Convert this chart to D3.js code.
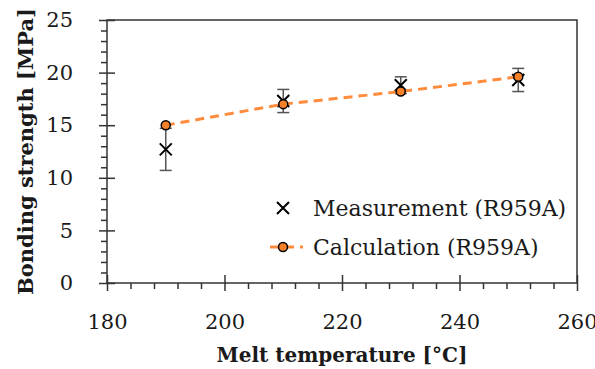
<!DOCTYPE html>
<html>
<head>
<meta charset="utf-8">
<script src="https://cdn.jsdelivr.net/npm/d3@7"></script>
<style>
  body { margin: 0; background: #fff; overflow: hidden; }
  svg text { font-family: "DejaVu Serif", "Liberation Serif", serif; fill: #1a1a1a; }
</style>
</head>
<body>
<svg id="chart" width="595" height="369"></svg>
<script>
// melt temperature [°C]
var temps = [190, 210, 230, 250];
// measured bonding strength and its error (+/-)
var measured = [12.7, 17.3, 18.8, 19.3];
var measuredErr = [2.0, 1.1, 0.8, 1.1];
// calculated bonding strength
var calculated = [15.0, 17.0, 18.2, 19.6];

var xTicks = [180, 200, 220, 240, 260];
var yTicks = [0, 5, 10, 15, 20, 25];

var svg = d3.select("#chart");
var mLeft = 107, mRight = 577, mTop = 20, mBottom = 283;

var x = d3.scaleLinear().domain([180, 260]).range([mLeft, mRight]);
var y = d3.scaleLinear().domain([0, 25]).range([mBottom, mTop]);

var axisColor = "#333";

// frame
svg.append("rect")
    .attr("x", mLeft).attr("y", mTop)
    .attr("width", mRight - mLeft).attr("height", mBottom - mTop)
    .attr("fill", "none").attr("stroke", axisColor).attr("stroke-width", 1.5);

function styleAxis(g) {
  g.select(".domain").remove();
  g.selectAll(".tick line").attr("stroke", axisColor).attr("stroke-width", 1.5);
}

// minor ticks (outside)
var xMinor = d3.range(180, 261, 4).filter(function(v) { return xTicks.indexOf(v) < 0; });
var yMinor = d3.range(0, 25.01, 1).filter(function(v) { return yTicks.indexOf(v) < 0; });

svg.append("g").attr("transform", "translate(0," + mBottom + ")")
    .call(d3.axisBottom(x).tickValues(xMinor).tickSize(6).tickFormat(""))
    .call(styleAxis);
svg.append("g").attr("transform", "translate(" + mLeft + ",0)")
    .call(d3.axisLeft(y).tickValues(yMinor).tickSize(6).tickFormat(""))
    .call(styleAxis);

// major ticks crossing the axis
svg.append("g").attr("transform", "translate(0," + mBottom + ")")
    .call(d3.axisBottom(x).tickValues(xTicks).tickSize(-8).tickFormat(""))
    .call(styleAxis);
svg.append("g").attr("transform", "translate(" + mLeft + ",0)")
    .call(d3.axisLeft(y).tickValues(yTicks).tickSize(-8).tickFormat(""))
    .call(styleAxis);

var xAxis = svg.append("g").attr("transform", "translate(0," + mBottom + ")")
    .call(d3.axisBottom(x).tickValues(xTicks).tickSize(8).tickPadding(23))
    .call(styleAxis);
xAxis.selectAll("text").attr("font-size", 21).attr("font-family", "DejaVu Serif").attr("fill", "#1a1a1a");

var yAxis = svg.append("g").attr("transform", "translate(" + mLeft + ",0)")
    .call(d3.axisLeft(y).tickValues(yTicks).tickSize(8).tickPadding(26))
    .call(styleAxis);
yAxis.selectAll("text").attr("font-size", 21).attr("font-family", "DejaVu Serif").attr("fill", "#1a1a1a");

// axis titles
svg.append("text")
    .attr("x", (mLeft + mRight) / 2).attr("y", 362)
    .attr("text-anchor", "middle")
    .attr("font-size", 20).attr("font-weight", "bold")
    .text("Melt temperature [°C]");

svg.append("text")
    .attr("transform", "translate(33," + ((mTop + mBottom) / 2) + ") rotate(-90)")
    .attr("text-anchor", "middle")
    .attr("font-size", 21).attr("font-weight", "bold")
    .text("Bonding strength [MPa]");

// error bars
var errColor = "#555";
var eb = svg.append("g");
temps.forEach(function(t, i) {
  var lo = measured[i] - measuredErr[i], hi = measured[i] + measuredErr[i];
  eb.append("line").attr("x1", x(t)).attr("x2", x(t))
    .attr("y1", y(lo)).attr("y2", y(hi))
    .attr("stroke", errColor).attr("stroke-width", 1.5);
  [lo, hi].forEach(function(v) {
    eb.append("line").attr("x1", x(t) - 6).attr("x2", x(t) + 6)
      .attr("y1", y(v)).attr("y2", y(v))
      .attr("stroke", errColor).attr("stroke-width", 1.5);
  });
});

// measurement crosses
function cross(g, cx, cy, s) {
  g.append("path")
    .attr("d", "M" + (cx - s) + "," + (cy - s) + "L" + (cx + s) + "," + (cy + s) +
               "M" + (cx - s) + "," + (cy + s) + "L" + (cx + s) + "," + (cy - s))
    .attr("stroke", "#000").attr("stroke-width", 2).attr("fill", "none");
}
var meas = svg.append("g");
temps.forEach(function(t, i) { cross(meas, x(t), y(measured[i]), 6); });

// calculation line
var orange = "#f5802a";
var line = d3.line().x(function(d, i) { return x(temps[i]); }).y(function(d) { return y(d); });
svg.append("path").datum(calculated)
    .attr("d", line)
    .attr("fill", "none").attr("stroke", "#ff8c3c")
    .attr("stroke-width", 3).attr("stroke-dasharray", "9,6");

svg.selectAll(".calc").data(calculated).enter().append("circle")
    .attr("class", "calc")
    .attr("cx", function(d, i) { return x(temps[i]); })
    .attr("cy", function(d) { return y(d); })
    .attr("r", 4.5)
    .attr("fill", orange).attr("stroke", "#000").attr("stroke-width", 1.5);

// legend
var lg = svg.append("g");
cross(lg, 283, 208, 6);
lg.append("text").attr("x", 313).attr("y", 216).attr("font-size", 22)
    .text("Measurement (R959A)");
lg.append("line").attr("x1", 270).attr("x2", 303).attr("y1", 247).attr("y2", 247)
    .attr("stroke", "#ff8c3c").attr("stroke-width", 3).attr("stroke-dasharray", "9,6");
lg.append("circle").attr("cx", 283).attr("cy", 247).attr("r", 4.5)
    .attr("fill", orange).attr("stroke", "#000").attr("stroke-width", 1.5);
lg.append("text").attr("x", 313).attr("y", 255).attr("font-size", 22)
    .text("Calculation (R959A)");
</script>
</body>
</html>
